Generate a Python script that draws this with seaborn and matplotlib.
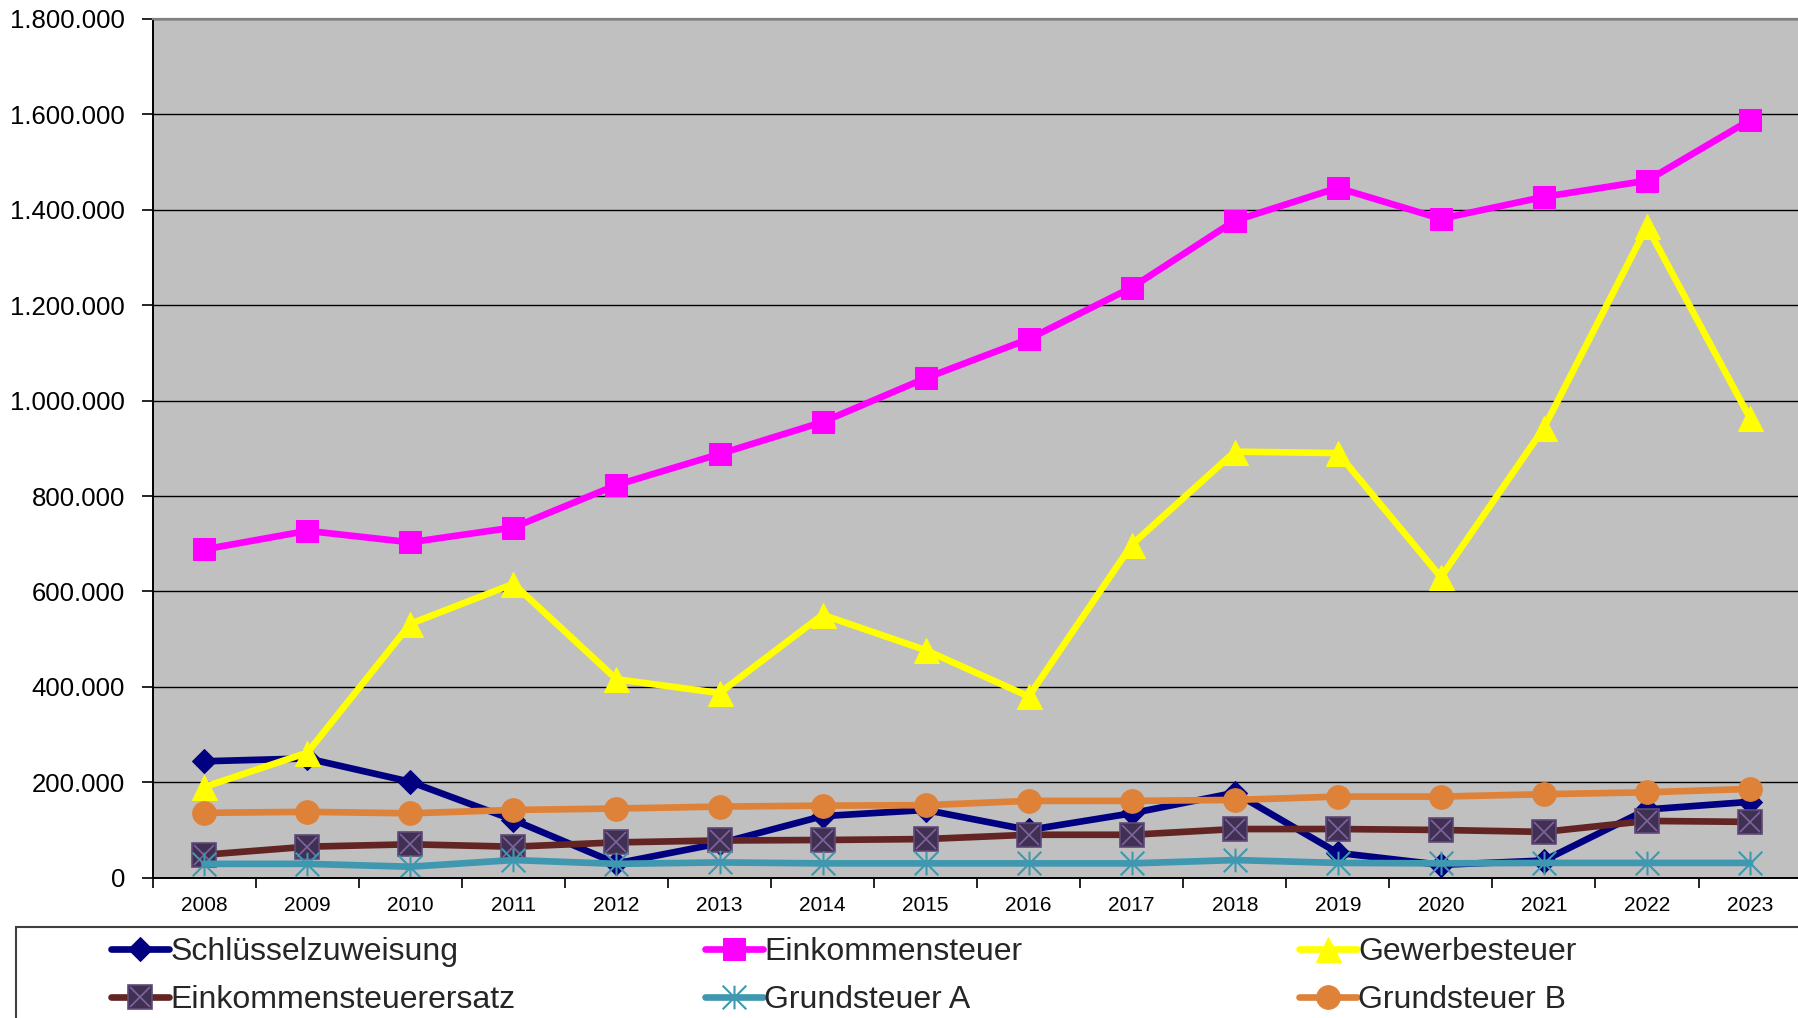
import numpy as np
import pandas as pd
import seaborn as sns
import matplotlib
import matplotlib.pyplot as plt
from matplotlib.path import Path
from matplotlib.patches import Rectangle
from matplotlib.ticker import FuncFormatter, FixedLocator

matplotlib.use("Agg")
sns.set_theme(style="white")
plt.rcParams["font.family"] = ["Liberation Sans", "DejaVu Sans"]

years = list(range(2008, 2024))
schluesselzuweisung = [244000, 250000, 201000, 121000, 30000, 72000, 129000, 142000,
                       100000, 135000, 178000, 52000, 27000, 36000, 143000, 159000]
einkommensteuer = [688000, 727000, 703000, 734000, 823000, 888000, 955000, 1047000,
                   1129000, 1237000, 1377000, 1446000, 1381000, 1427000, 1461000, 1588000]
gewerbesteuer = [190000, 262000, 532000, 616000, 416000, 387000, 551000, 477000,
                 380000, 698000, 893000, 890000, 630000, 943000, 1365000, 963000]
einkommensteuerersatz = [48000, 65000, 70000, 65000, 74000, 78000, 79000, 81000,
                         90000, 90000, 102000, 102000, 100000, 96000, 119000, 117000]
grundsteuer_a = [29000, 29000, 23000, 37000, 29000, 32000, 30000, 30000,
                 30000, 30000, 37000, 31000, 30000, 31000, 31000, 31000]
grundsteuer_b = [136000, 138000, 135000, 142000, 145000, 149000, 151000, 152000,
                 161000, 161000, 163000, 170000, 170000, 175000, 179000, 186000]

df = pd.DataFrame({
    "Jahr": years,
    "Schlüsselzuweisung": schluesselzuweisung,
    "Einkommensteuer": einkommensteuer,
    "Gewerbesteuer": gewerbesteuer,
    "Einkommensteuerersatz": einkommensteuerersatz,
    "Grundsteuer A": grundsteuer_a,
    "Grundsteuer B": grundsteuer_b,
})

# Excel-Stern: senkrechter Strich + X
star = Path([(0, -1), (0, 1), (-1, -1), (1, 1), (-1, 1), (1, -1)],
            [Path.MOVETO, Path.LINETO, Path.MOVETO, Path.LINETO, Path.MOVETO, Path.LINETO])

fig = plt.figure(figsize=(17.98, 10.18), dpi=100)
ax = fig.add_axes([152.7 / 1798, 1 - 877.7 / 1018, 1.002 - 152.7 / 1798, (877.7 - 18.9) / 1018])
ax.set_facecolor("#C0C0C0")

lw = 4.8
handles = {}

sns.lineplot(data=df, x="Jahr", y="Schlüsselzuweisung", ax=ax, color="#000080", lw=lw,
             marker="D", markersize=12.5, markeredgecolor="#000080")
handles["Schlüsselzuweisung"] = ax.lines[-1]

sns.lineplot(data=df, x="Jahr", y="Einkommensteuer", ax=ax, color="#FF00FF", lw=lw,
             marker="s", markersize=16, markeredgecolor="#FF00FF")
handles["Einkommensteuer"] = ax.lines[-1]

sns.lineplot(data=df, x="Jahr", y="Gewerbesteuer", ax=ax, color="#FFFF00", lw=lw,
             marker="^", markersize=18, markeredgecolor="#FFFF00")
handles["Gewerbesteuer"] = ax.lines[-1]

sns.lineplot(data=df, x="Jahr", y="Einkommensteuerersatz", ax=ax, color="#632523", lw=lw,
             marker="s", markersize=17, markerfacecolor="#403152", markeredgecolor="#604A7B",
             markeredgewidth=1.2)
sq = ax.lines[-1]
sns.lineplot(data=df, x="Jahr", y="Einkommensteuerersatz", ax=ax, color="#8064A2", lw=0,
             marker="x", markersize=15, markeredgecolor="#8064A2", markeredgewidth=1.2)
handles["Einkommensteuerersatz"] = (sq, ax.lines[-1])

sns.lineplot(data=df, x="Jahr", y="Grundsteuer A", ax=ax, color="#3F98B0", lw=lw,
             marker=star, markersize=17, markerfacecolor="none", markeredgecolor="#3F98B0",
             markeredgewidth=1.5)
handles["Grundsteuer A"] = ax.lines[-1]

sns.lineplot(data=df, x="Jahr", y="Grundsteuer B", ax=ax, color="#DE823A", lw=lw,
             marker="o", markersize=17, markeredgecolor="#DE823A")
handles["Grundsteuer B"] = ax.lines[-1]

# Achsen
ax.set_xlim(years[0] - 0.5, years[-1] + 0.5)
ax.set_ylim(0, 1800000)
ax.set_yticks(np.arange(0, 1800001, 200000))
ax.yaxis.set_major_formatter(FuncFormatter(lambda v, p: f"{v:,.0f}".replace(",", ".")))
ax.set_xticks(years)
ax.set_xticklabels([str(y) for y in years])
ax.xaxis.set_minor_locator(FixedLocator([y + 0.5 for y in years[:-1]] + [years[0] - 0.5]))
ax.tick_params(axis="x", which="major", length=0, pad=13, labelsize=15, colors="black")
ax.tick_params(axis="x", which="minor", length=7, width=1.2, direction="out", color="black", bottom=True)
ax.tick_params(axis="y", which="major", length=8, width=1.2, direction="out", pad=12,
               labelsize=18.5, colors="black", left=True)
ax.yaxis.grid(True, color="black", lw=1.0)
ax.xaxis.grid(False)
ax.set_axisbelow(True)
ax.set_xlabel("")
ax.set_ylabel("")
for side in ["left", "bottom"]:
    ax.spines[side].set_color("black")
    ax.spines[side].set_linewidth(1.4)
ax.spines["top"].set_color("#808080")
ax.spines["top"].set_linewidth(1.6)
ax.spines["right"].set_visible(False)
if ax.get_legend():
    ax.get_legend().remove()

# Legendenrahmen
fig.patches.append(Rectangle((16 / 1798, -0.1), 1.2, 1 - 926.5 / 1018 + 0.1,
                             transform=fig.transFigure, facecolor="white",
                             edgecolor="#404040", lw=1.5, clip_on=False, zorder=0))

columns = [
    (111 / 1798, ["Schlüsselzuweisung", "Einkommensteuerersatz"]),
    (705 / 1798, ["Einkommensteuer", "Grundsteuer A"]),
    (1299 / 1798, ["Gewerbesteuer", "Grundsteuer B"]),
]
for x0, names in columns:
    fig.legend([handles[n] for n in names], names, loc="center left",
               bbox_to_anchor=(x0, 1 - 976 / 1018), frameon=False, fontsize=23,
               handlelength=1.8, handletextpad=0.05, labelspacing=0.58,
               borderpad=0, borderaxespad=0, numpoints=1)

fig.savefig("out.png", dpi=100)
